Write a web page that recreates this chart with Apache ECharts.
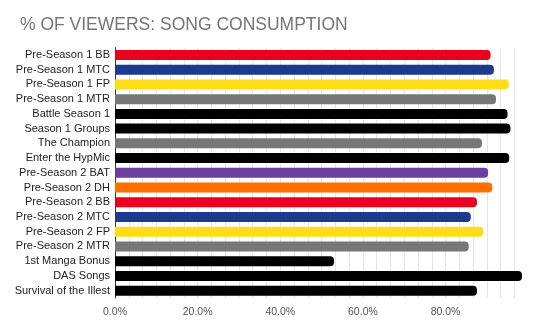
<!DOCTYPE html>
<html><head><meta charset="utf-8">
<script src="https://cdn.jsdelivr.net/npm/echarts@6/dist/echarts.min.js"></script>
<style>html,body{margin:0;padding:0;background:#fff}#c{width:538px;height:333px}</style>
</head><body><div id="c"></div>
<script>
const categories = ["Pre-Season 1 BB","Pre-Season 1 MTC","Pre-Season 1 FP","Pre-Season 1 MTR","Battle Season 1","Season 1 Groups","The Champion","Enter the HypMic","Pre-Season 2 BAT","Pre-Season 2 DH","Pre-Season 2 BB","Pre-Season 2 MTC","Pre-Season 2 FP","Pre-Season 2 MTR","1st Manga Bonus","DAS Songs","Survival of the Illest"];
const values = [90.9,91.7,95.3,92.2,95.0,95.7,88.8,95.4,90.3,91.3,87.6,86.1,89.1,85.6,53.0,98.5,87.6];
const colors = ["#e8001c","#1c3a8e","#ffdd1a","#777777","#000000","#000000","#777777","#000000","#6b3fa0","#ff7000","#e8001c","#1c3a8e","#ffdd1a","#777777","#000000","#000000","#000000"];
const tickLabels = ["0.0%","20.0%","40.0%","60.0%","80.0%"];
const chart = echarts.init(document.getElementById('c'));
chart.setOption({
  animation:false,
  title:{text:"% OF VIEWERS: SONG CONSUMPTION",left:15,top:11,textStyle:{fontFamily:"Liberation Sans, Arial",fontSize:17.5,fontWeight:"normal",color:"#757575"}},
  grid:{left:115,right:16,top:47.6,bottom:35,containLabel:false},
  xAxis:{type:'value',min:0,max:98.5,interval:10/3,
    axisLine:{show:false},axisTick:{show:false},
    splitLine:{show:true,showMaxLine:false,lineStyle:{color:'#e6e6e6',width:1}},
    axisLabel:{margin:9,color:'#555',fontSize:10.5,fontFamily:"Liberation Sans, Arial",
      formatter:function(v){const k=v/20;const r=Math.round(k);if(Math.abs(k-r)<0.01&&r<tickLabels.length)return tickLabels[r];return '';}}},
  yAxis:{type:'category',data:categories,inverse:true,
    axisLine:{show:true,lineStyle:{color:'#333',width:1}},axisTick:{show:false},
    axisLabel:{margin:5,color:'#222',fontSize:11,fontFamily:"Liberation Sans, Arial"}},
  series:[{type:'bar',barWidth:10,
    data:values.map((v,i)=>({value:v,itemStyle:{color:colors[i],borderRadius:[0,4,4,0]}}))}]
});
</script></body></html>
